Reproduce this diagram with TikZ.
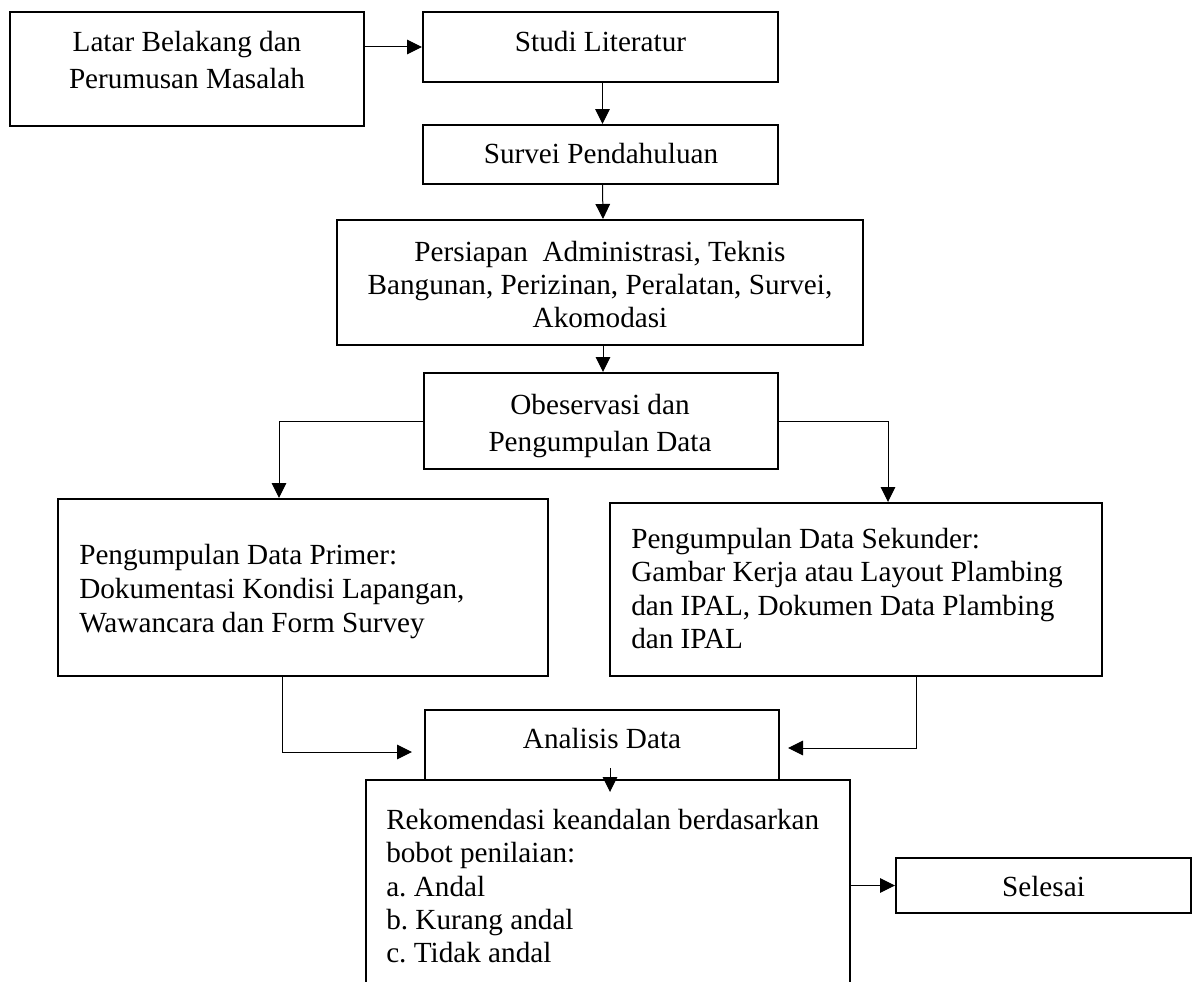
\documentclass[tikz,border=0pt]{standalone}
\usepackage{fontspec}
\setmainfont{Liberation Serif}
\usetikzlibrary{arrows.meta,calc}
\frenchspacing
\begin{document}
\begin{tikzpicture}[x=0.75pt,y=-0.75pt,
  box/.style={draw, line width=1.5pt, rectangle, inner sep=0pt},
  txt/.style={inner sep=0pt, font=\fontsize{21.9pt}{25pt}\selectfont},
  conn/.style={line width=0.75pt, -{Triangle[length=11.25pt,width=10.9pt]}}]
\useasboundingbox (0,0) rectangle (1198,981);

% boxes
\node[box, minimum width=265.5pt, minimum height=85.5pt] (b1) at (187,69) {};
\node[box, minimum width=266.25pt, minimum height=52.5pt] (studi) at (600.5,47) {};
\node[box, minimum width=266.25pt, minimum height=44.25pt] (survei) at (600.5,154.5) {};
\node[box, minimum width=394.5pt, minimum height=93.75pt] (pers) at (600,282.5) {};
\node[box, minimum width=265.5pt, minimum height=72pt] (obs) at (601,421) {};
\node[box, minimum width=367.5pt, minimum height=132.75pt] (primer) at (303,587.5) {};
\node[box, minimum width=369pt, minimum height=129.75pt] (sek) at (856,589.5) {};
\node[box, minimum width=265.5pt, minimum height=52.5pt] (ana) at (602,745) {};
\node[box, minimum width=363pt, minimum height=165pt] (rek) at (608,890) {};
\node[box, minimum width=221.25pt, minimum height=41.25pt] (sel) at (1043.5,885.5) {};

% texts
\node[txt, anchor=north, align=center, font=\fontsize{21.9pt}{27.5pt}\selectfont] (t1) at (187,31)
  {Latar Belakang dan\\Perumusan Masalah};
\node[txt, anchor=base] (t2) at (600.5,51) {Studi Literatur};
\node[txt, anchor=base] (t3) at (601,163) {Survei Pendahuluan};
\node[txt, anchor=north, align=center, font=\fontsize{21.9pt}{24.75pt}\selectfont] (t4) at (600,241)
  {Persiapan\ \ Administrasi, Teknis\\Bangunan, Perizinan, Peralatan, Survei,\\Akomodasi};
\node[txt, anchor=north, align=center, font=\fontsize{21.9pt}{27.75pt}\selectfont] (t5) at (600,394)
  {Obeservasi dan\\Pengumpulan Data};
\node[txt, anchor=north west, align=left, font=\fontsize{21.9pt}{25.5pt}\selectfont] (t6) at (79,544)
  {Pengumpulan Data Primer:\\Dokumentasi Kondisi Lapangan,\\Wawancara dan Form Survey};
\node[txt, anchor=north west, align=left] (t7) at (631,528)
  {Pengumpulan Data Sekunder:\\Gambar Kerja atau Layout Plambing\\dan IPAL, Dokumen Data Plambing\\dan IPAL};
\node[txt, anchor=base] (t8) at (602,748) {Analisis Data};
\node[txt, anchor=north west, align=left] (t9) at (386,809)
  {Rekomendasi keandalan berdasarkan\\bobot penilaian:\\a. Andal\\b. Kurang andal\\c. Tidak andal};
\node[txt, anchor=base] (t10) at (1043.5,896) {Selesai};

% connectors
\draw[conn] (b1.east |- studi.west) -- (studi.west);
\draw[conn] ($(studi.south)+(2,0)$) -- ($(survei.north)+(2,0)$);
\draw[conn] ($(survei.south)+(2,0)$) -- ($(pers.north)+(3,0)$);
\draw[conn] ($(pers.south)+(3,0)$) -- ($(obs.north)+(2,0)$);
\draw[conn] (obs.west) -| ($(primer.north)+(-24,0)$);
\draw[conn] (obs.east) -| ($(sek.north)+(32,0)$);
\draw[conn, shorten >=9pt] ($(primer.south)+(-21,0)$) |- ($(ana.west)+(0,7)$);
\draw[conn, shorten >=6pt] ($(sek.south)+(60,0)$) |- ($(ana.east)+(0,3)$);
\draw[conn] ($(ana.south)+(8,-13)$) -- ($(rek.north)+(2,13)$);
\draw[conn] (rek.east |- sel.west) -- (sel.west);
\end{tikzpicture}
\end{document}
